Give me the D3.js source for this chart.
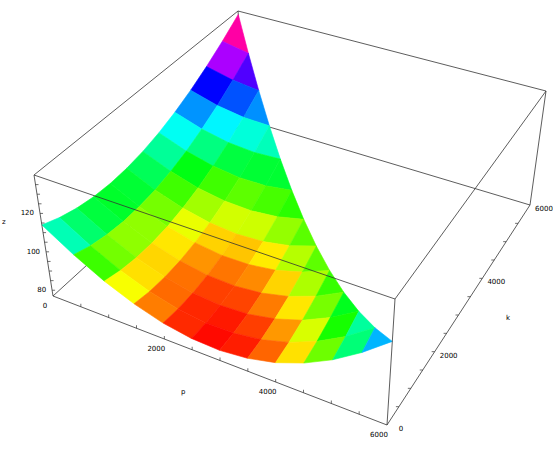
<!DOCTYPE html>
<html><head><meta charset="utf-8">
<script src="https://cdn.jsdelivr.net/npm/d3@7"></script>
<style>body{margin:0;background:#fff}svg{display:block}text{font-family:"DejaVu Sans",sans-serif;font-size:7px;fill:#000}</style>
</head><body><div id="chart"></div>
<script>
// grid step in p and k
const stepK = 500;
const pValues = d3.range(0, 6001, 500);
// surface values z(p,k): one row per k (0, 500, ... 6000), p from 0 up to 6000-k
const zRows = [
  [114, 104, 95.8, 89.6, 85.2, 82.8, 82.2, 83.6, 86.8, 92, 99, 108, 118.8],
  [110.5, 101.1, 93.6, 88, 84.3, 82.5, 82.6, 84.6, 88.5, 94.3, 102, 111.6],
  [108, 99.3, 92.4, 87.5, 84.4, 83.3, 84, 86.7, 91.2, 97.7, 106],
  [106.5, 98.4, 92.2, 87.9, 85.5, 85, 86.4, 89.7, 94.9, 102],
  [106, 98.6, 93, 89.4, 87.6, 87.8, 89.8, 93.8, 99.6],
  [106.5, 99.7, 94.8, 91.8, 90.7, 91.5, 94.2, 98.8],
  [108, 101.9, 97.6, 95.3, 94.8, 96.3, 99.6],
  [110.5, 105, 101.4, 99.7, 99.9, 102],
  [114, 109.2, 106.2, 105.2, 106],
  [118.5, 114.3, 112, 111.6],
  [124, 120.5, 118.8],
  [130.5, 127.6],
  [138]
];
const zTicks = [80, 100, 120];
const pTicks = [0, 2000, 4000, 6000];
const kTicks = [0, 2000, 4000, 6000];
const zDomain = [77, 140];

const W = 553, H = 449;
const svg = d3.select('#chart').append('svg').attr('width', W).attr('height', H);

// screen corners of the box: [p][k][z] with 0 = min, 1 = max
const C = {
  '000': [53, 296], '100': [387, 425], '110': [530, 205], '010': [246, 120],
  '001': [34, 175], '101': [395, 299], '111': [546, 91], '011': [238, 11]
};
const sp = d3.scaleLinear().domain([0, 6000]).range([0, 1]);
const sk = d3.scaleLinear().domain([0, 6000]).range([0, 1]);
const sz = d3.scaleLinear().domain(zDomain).range([0, 1]);
function proj(p, k, z) {
  const a = sp(p), b = sk(k), c = sz(z);
  let x = 0, y = 0;
  for (const i of [0, 1]) for (const j of [0, 1]) for (const l of [0, 1]) {
    const w = (i ? a : 1 - a) * (j ? b : 1 - b) * (l ? c : 1 - c);
    const q = C['' + i + j + l];
    x += w * q[0]; y += w * q[1];
  }
  return [x, y];
}
const line = d3.line();
// colour like Hue[] over the range of the data
const allZ = zRows.flat();
const hue = d3.scaleLinear().domain([d3.min(allZ), d3.max(allZ)]).range([0, 360]);
const edge = (p1, p2) => svg.append('path').attr('d', line([proj(...p1), proj(...p2)]))
  .attr('stroke', '#333').attr('stroke-width', 0.8).attr('fill', 'none');

const [z0, z1] = zDomain;
// hidden back edges first
edge([0, 6000, z0], [6000, 6000, z0]);
edge([0, 0, z0], [0, 6000, z0]);
edge([0, 6000, z0], [0, 6000, z1]);

// surface cells
const cells = [];
zRows.forEach((row, r) => {
  const k = r * stepK;
  row.forEach((z, c) => {
    const p = pValues[c];
    const next = zRows[r + 1];
    if (!next) return;
    if (c + 1 < next.length) {
      cells.push([[p, k, z], [p + 500, k, row[c + 1]], [p + 500, k + 500, next[c + 1]], [p, k + 500, next[c]]]);
    } else if (c + 1 < row.length && c < next.length) {
      cells.push([[p, k, z], [p + 500, k, row[c + 1]], [p, k + 500, next[c]]]);
    }
  });
});
cells.sort((A, B) => (B[0][1] - B[0][0]) - (A[0][1] - A[0][0]));
const cellColor = d => d3.hsl(hue(d3.mean(d, q => q[2])), 1, 0.5);
svg.append('g').selectAll('path').data(cells).join('path')
  .attr('d', d => line(d.map(q => proj(...q))) + 'Z')
  .attr('fill', cellColor)
  .attr('stroke', cellColor).attr('stroke-width', 0.6);

// front edges
edge([0, 0, z0], [6000, 0, z0]);
edge([6000, 0, z0], [6000, 6000, z0]);
edge([0, 0, z0], [0, 0, z1]);
edge([6000, 0, z0], [6000, 0, z1]);
edge([6000, 6000, z0], [6000, 6000, z1]);
edge([0, 0, z1], [6000, 0, z1]);
edge([6000, 0, z1], [6000, 6000, z1]);
edge([6000, 6000, z1], [0, 6000, z1]);
edge([0, 6000, z1], [0, 0, z1]);

// ticks
const tick = (a, dx, dy) => svg.append('line').attr('x1', a[0]).attr('y1', a[1]).attr('x2', a[0] + dx).attr('y2', a[1] + dy).attr('stroke', '#333').attr('stroke-width', 0.7);
d3.range(500, 6000, 500).forEach(p => tick(proj(p, 0, z0), 0, -3));
d3.range(500, 6000, 500).forEach(k => tick(proj(6000, k, z0), -3, 0));
d3.range(80, 140, 5).forEach(z => tick(proj(0, 0, z), 3, 0));
pTicks.forEach(p => { const a = proj(p, 0, z0); svg.append('text').attr('x', a[0] - 8).attr('y', a[1] + 12).attr('text-anchor', 'middle').text(p); });
kTicks.forEach(k => { const a = proj(6000, k, z0); svg.append('text').attr('x', a[0] + 14).attr('y', a[1] + 6).attr('text-anchor', 'middle').text(k); });
zTicks.forEach(z => { const a = proj(0, 0, z); svg.append('text').attr('x', a[0] - 6).attr('y', a[1] + 2).attr('text-anchor', 'end').text(z); });
svg.append('text').attr('x', 181).attr('y', 394).text('p');
svg.append('text').attr('x', 506).attr('y', 320).text('k');
svg.append('text').attr('x', 2).attr('y', 224).text('z');
</script></body></html>
